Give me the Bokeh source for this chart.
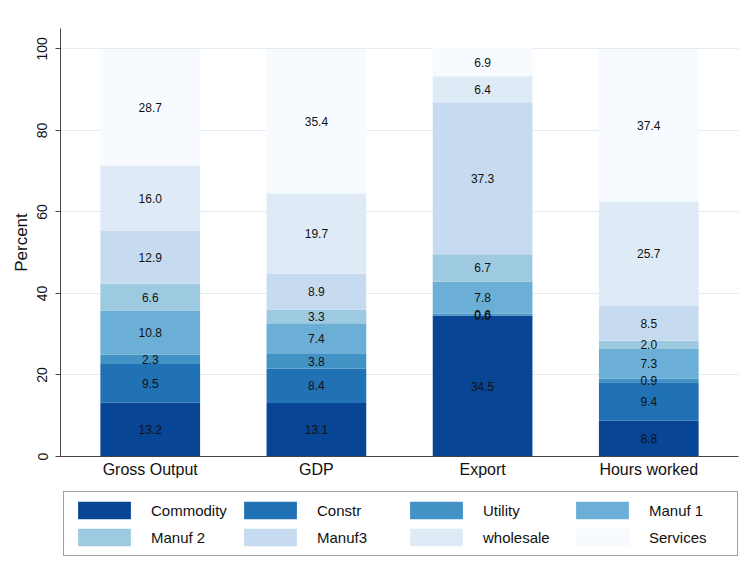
from bokeh.plotting import figure
from bokeh.layouts import column
from bokeh.models import FactorRange, Range1d, Legend, LegendItem, ColumnDataSource, FixedTicker
from bokeh.core.properties import value
from bokeh.embed import file_html
from bokeh.resources import INLINE

categories = ["Gross Output", "GDP", "Export", "Hours worked"]
sectors = ["Commodity", "Constr", "Utility", "Manuf 1", "Manuf 2", "Manuf3", "wholesale", "Services"]
commodity = [13.2, 13.1, 34.5, 8.8]
constr = [9.5, 8.4, 0.0, 9.4]
utility = [2.3, 3.8, 0.6, 0.9]
manuf1 = [10.8, 7.4, 7.8, 7.3]
manuf2 = [6.6, 3.3, 6.7, 2.0]
manuf3 = [12.9, 8.9, 37.3, 8.5]
wholesale = [16.0, 19.7, 6.4, 25.7]
services = [28.7, 35.4, 6.9, 37.4]
y_ticks = [0, 20, 40, 60, 80, 100]

series = [commodity, constr, utility, manuf1, manuf2, manuf3, wholesale, services]
colors = ["#084594", "#2171b5", "#4292c6", "#6baed6", "#9ecae1", "#c6dbef", "#deebf7", "#f7fbff"]
FONT = "Liberation Sans"

keys = [f"s{i}" for i in range(len(sectors))]
data = {"cat": categories}
for k, s in zip(keys, series):
    data[k] = s
src = ColumnDataSource(data)

p = figure(x_range=FactorRange(*categories, range_padding=0.02),
           y_range=Range1d(0, 105),
           width=740, height=490,
           min_border_left=60, min_border_top=28, min_border_right=2, min_border_bottom=34,
           output_backend="svg", toolbar_location=None)

rends = p.vbar_stack(keys, x="cat", width=0.6, source=src, color=colors, line_width=0)

# segment labels
lx, ly, lt = [], [], []
for j, c in enumerate(categories):
    base = 0.0
    for s in series:
        v = s[j]
        lx.append(c)
        ly.append(base + v / 2)
        lt.append(f"{v:.1f}")
        base += v
p.text(x=lx, y=ly, text=lt, text_font=value(FONT), text_font_size="12px",
       text_align="center", text_baseline="middle", text_color="#111111")

p.outline_line_color = None
p.xgrid.grid_line_color = None
p.ygrid.grid_line_color = "#e3edf0"
p.ygrid.ticker = FixedTicker(ticks=y_ticks)
p.ygrid.level = "underlay"

p.yaxis.ticker = FixedTicker(ticks=y_ticks)
p.yaxis.axis_label = "Percent"
p.yaxis.axis_label_text_font = FONT
p.yaxis.axis_label_text_font_size = "17px"
p.yaxis.axis_label_text_font_style = "normal"
p.yaxis.axis_label_text_color = "#111111"
p.yaxis.axis_label_standoff = 4
p.yaxis.major_label_orientation = "vertical"
p.yaxis.minor_tick_line_color = None
p.yaxis.major_tick_out = 5
p.yaxis.major_tick_in = 0
p.yaxis.major_label_standoff = 8

for ax in (p.xaxis, p.yaxis):
    ax.axis_line_color = "#444444"
    ax.major_tick_line_color = "#444444"
    ax.major_label_text_font = FONT
    ax.major_label_text_font_size = "15px"
    ax.major_label_text_color = "#111111"
p.yaxis.major_label_text_font_size = "14px"
p.xaxis.major_label_text_font_size = "16px"
p.xaxis.major_tick_line_color = None
p.xaxis.major_tick_out = 0
p.xaxis.major_label_standoff = 4

# legend strip below the chart: same stacked bars, kept outside its visible range
lg = figure(width=740, height=72, x_range=FactorRange(*categories),
            y_range=Range1d(1000, 1001),
            min_border=0, x_axis_location=None, y_axis_location=None,
            output_backend="svg", toolbar_location=None)
lg.outline_line_color = None
lg.xgrid.visible = False
lg.ygrid.visible = False
swatches = lg.vbar_stack(keys, x="cat", width=0.6, source=src, color=colors, line_width=0)
items = [LegendItem(label=lab, renderers=[r]) for lab, r in zip(sectors, swatches)]
legend = Legend(items=items, ncols=4, orientation="horizontal", location=(3, 6),
                glyph_width=66, glyph_height=22, label_standoff=14,
                label_width=81, label_height=22, spacing=5, padding=7, margin=0,
                label_text_font=FONT, label_text_font_size="15px",
                label_text_color="#111111",
                border_line_color="#444444", border_line_width=1,
                background_fill_color="white", background_fill_alpha=1.0)
lg.add_layout(legend, "center")

layout = column(p, lg, spacing=0)
open("out.html", "w").write(file_html(layout, INLINE))
